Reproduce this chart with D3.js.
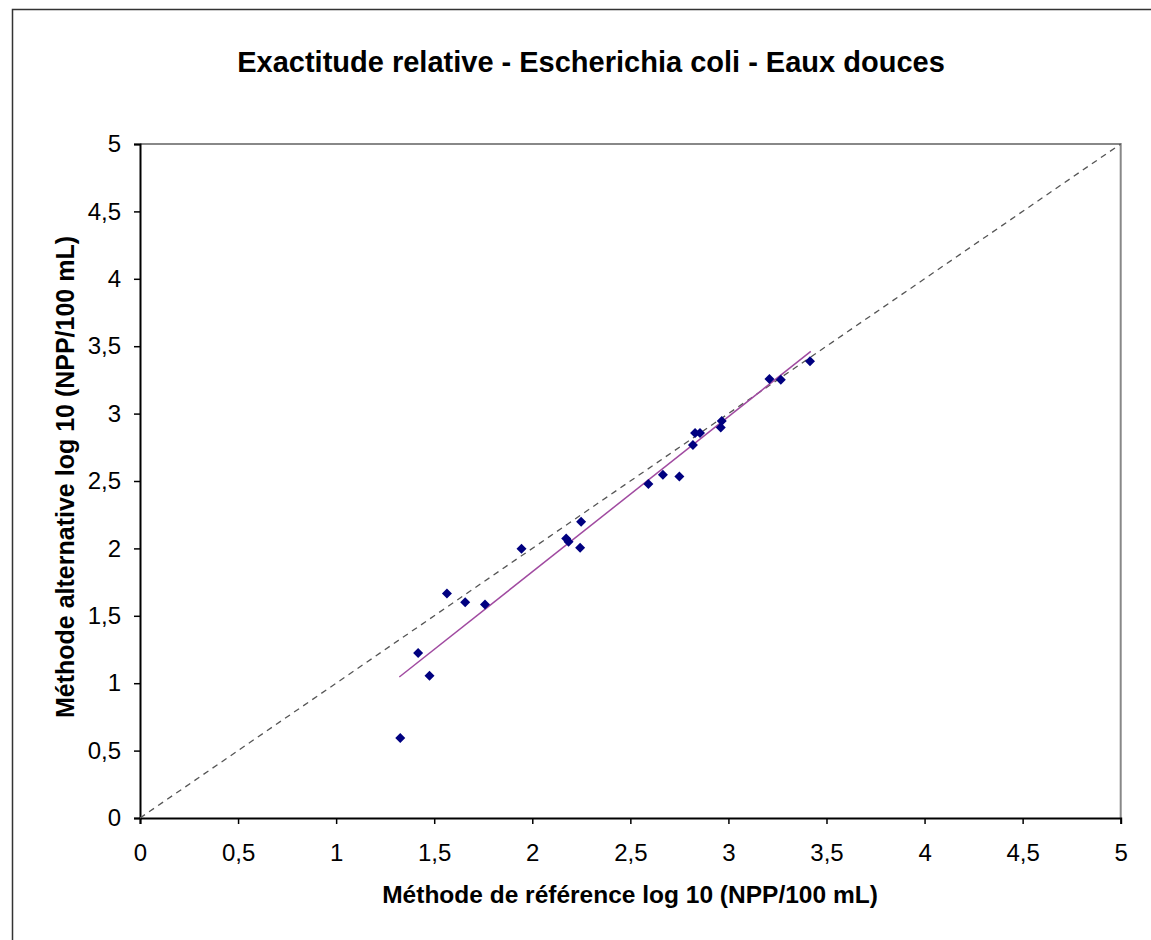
<!DOCTYPE html>
<html>
<head>
<meta charset="utf-8">
<script src="https://cdn.jsdelivr.net/npm/d3@7"></script>
<style>
  body { margin: 0; background: #fff; }
  svg { display: block; font-family: "Liberation Sans", Arial, sans-serif; }
</style>
</head>
<body>
<div id="chart"></div>
<script>
// valeurs (log10 NPP/100 mL)
const refValues = [1.327, 1.418, 1.476, 1.565, 1.658, 1.759, 1.945, 2.173, 2.185, 2.249, 2.244,
  2.592, 2.666, 2.750, 2.819, 2.830, 2.855, 2.961, 2.966, 3.209, 3.267, 3.416];
const altValues = [0.593, 1.224, 1.056, 1.666, 1.601, 1.584, 1.998, 2.074, 2.050, 2.198, 2.005,
  2.478, 2.547, 2.534, 2.767, 2.856, 2.856, 2.897, 2.945, 3.257, 3.252, 3.388];
// courbe de tendance (extrémités)
const trendX = [1.322, 3.42];
const trendY = [1.046, 3.461];
const ticks = [0, 0.5, 1, 1.5, 2, 2.5, 3, 3.5, 4, 4.5, 5];

const width = 1151, height = 940;
const margin = { left: 140, top: 144, right: 30, bottom: 122 };

const svg = d3.select("#chart").append("svg")
  .attr("width", width).attr("height", height);

// cadre extérieur
svg.append("rect")
  .attr("x", 12.5).attr("y", 9.5)
  .attr("width", width).attr("height", height)
  .attr("fill", "none").attr("stroke", "#333").attr("stroke-width", 1.5);

const x = d3.scaleLinear().domain([0, 5]).range([margin.left, width - margin.right - 0.3]);
const y = d3.scaleLinear().domain([0, 5]).range([height - margin.bottom, margin.top]);

const fmt = (d) => String(d).replace(".", ",");

// bords haut/droite gris
svg.append("path")
  .attr("d", `M${x(0)},${y(5)}H${x(5)}V${y(0)}`)
  .attr("fill", "none").attr("stroke", "#888").attr("stroke-width", 2);

const xAxis = svg.append("g")
  .attr("transform", `translate(0,${y(0)})`)
  .call(d3.axisBottom(x).tickValues(ticks).tickFormat(fmt).tickSize(6).tickPadding(20));
const yAxis = svg.append("g")
  .attr("transform", `translate(${x(0)},0)`)
  .call(d3.axisLeft(y).tickValues(ticks).tickFormat(fmt).tickSize(6).tickPadding(13));

[xAxis, yAxis].forEach((g) => {
  g.select(".domain").attr("stroke", "#000").attr("stroke-width", 2);
  g.selectAll(".tick line").attr("stroke", "#000").attr("stroke-width", 1.5);
  g.selectAll(".tick text")
    .attr("fill", "#000")
    .attr("font-size", 24)
    .attr("font-family", "Liberation Sans, Arial, sans-serif");
});

// diagonale y = x
svg.append("line")
  .attr("x1", x(0)).attr("y1", y(0))
  .attr("x2", x(5)).attr("y2", y(5))
  .attr("stroke", "#555").attr("stroke-width", 1.3)
  .attr("stroke-dasharray", "6,5");

// droite de régression
svg.append("line")
  .attr("x1", x(trendX[0])).attr("y1", y(trendY[0]))
  .attr("x2", x(trendX[1])).attr("y2", y(trendY[1]))
  .attr("stroke", "#a04aa0").attr("stroke-width", 1.5);

// points
const pts = refValues.map((d, i) => ({ x: d, y: altValues[i] }));
svg.append("g")
  .selectAll("path")
  .data(pts)
  .join("path")
  .attr("transform", (d) => `translate(${x(d.x)},${y(d.y)})`)
  .attr("d", "M0,-5L5,0L0,5L-5,0Z")
  .attr("fill", "#000080");

// titres
svg.append("text")
  .attr("x", 591).attr("y", 72)
  .attr("text-anchor", "middle")
  .attr("font-size", 29).attr("font-weight", "bold")
  .text("Exactitude relative - Escherichia coli - Eaux douces");

svg.append("text")
  .attr("x", 630).attr("y", 903)
  .attr("text-anchor", "middle")
  .attr("font-size", 24.5).attr("font-weight", "bold")
  .text("Méthode de référence log 10 (NPP/100 mL)");

svg.append("text")
  .attr("transform", "translate(74,477) rotate(-90)")
  .attr("text-anchor", "middle")
  .attr("font-size", 25).attr("font-weight", "bold")
  .text("Méthode alternative log 10 (NPP/100 mL)");
</script>
</body>
</html>
